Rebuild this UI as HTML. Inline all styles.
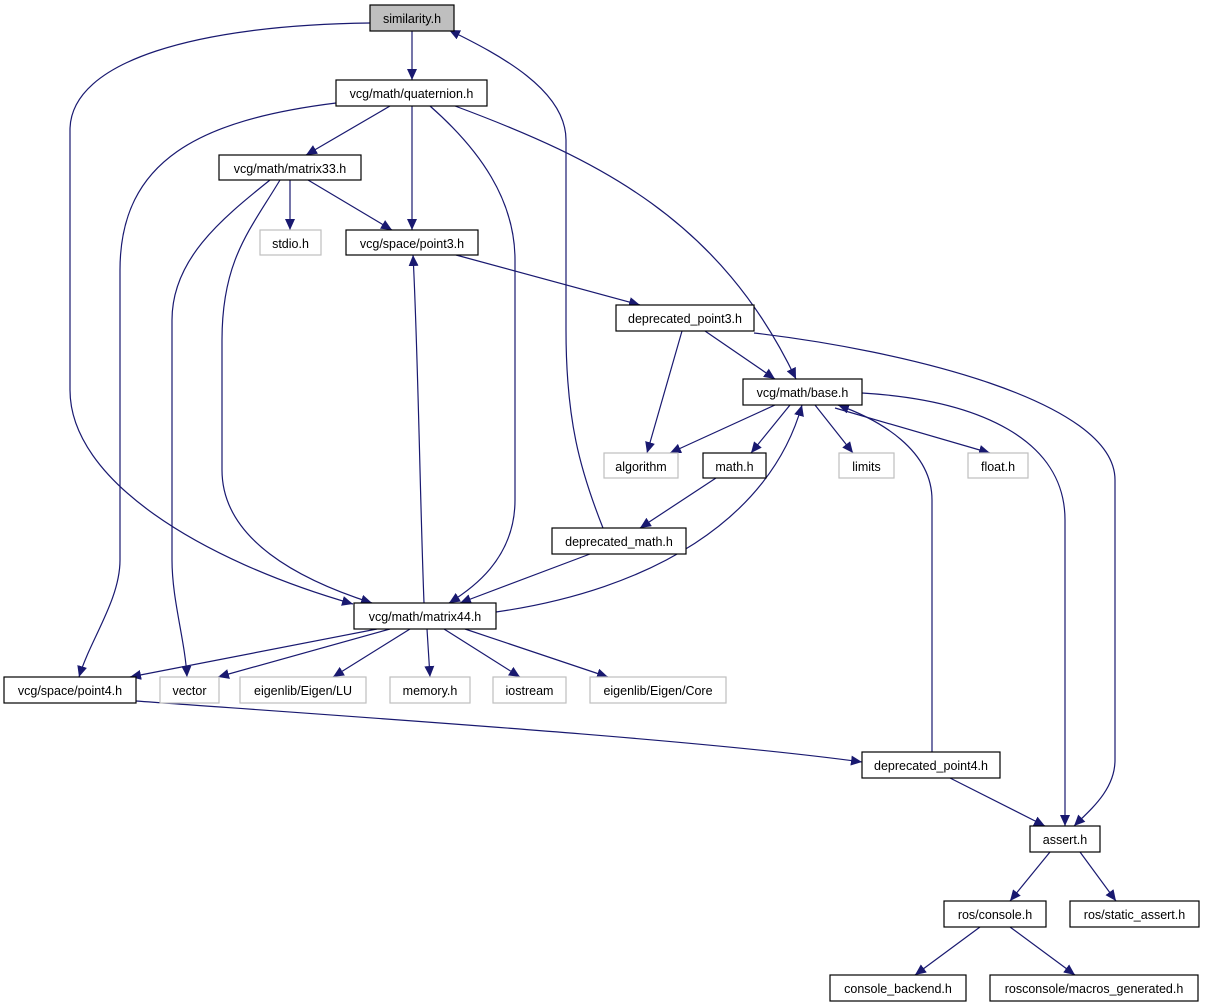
<!DOCTYPE html>
<html><head><meta charset="utf-8"><style>
html,body{margin:0;padding:0;background:#fff;}
svg{display:block;}
text{font-family:"Liberation Sans",sans-serif;font-size:12.5px;fill:#000;}
</style></head><body>
<svg width="1205" height="1008" viewBox="0 0 1205 1008" xmlns="http://www.w3.org/2000/svg">
<defs>
<marker id="a" markerUnits="userSpaceOnUse" markerWidth="12" markerHeight="10" refX="11" refY="5" orient="auto">
<path d="M0,0 L11,5 L0,10 z" fill="#191970"/>
</marker>
</defs>
<g fill="none" stroke="#191970" stroke-width="1.2" marker-end="url(#a)">
<path d="M412,31 L412,80"/>
<path d="M370,23 C200,25 70,60 70,130 L70,390 C70,480 200,560 353,604"/>
<path d="M603,528 C580,470 566,420 566,330 L566,140 C566,90 500,55 449,30"/>
<path d="M390,106 L306,155"/>
<path d="M412,106 L412,230"/>
<path d="M430,106 C480,150 515,200 515,260 L515,500 C515,560 470,590 449,603"/>
<path d="M455,106 C600,160 720,220 796,379"/>
<path d="M336,103 C200,120 120,160 120,270 L120,560 C120,600 90,640 79,677"/>
<path d="M290,180 L290,230"/>
<path d="M308,180 L392,230"/>
<path d="M270,180 C220,220 172,260 172,320 L172,560 C172,600 185,640 187,677"/>
<path d="M280,180 C250,230 222,260 222,340 L222,470 C222,540 300,580 372,603"/>
<path d="M456,255 L640,305"/>
<path d="M424,603 C420,500 418,350 413,255"/>
<path d="M705,331 L775,379"/>
<path d="M682,331 L647,453"/>
<path d="M754,333 C900,350 1115,400 1115,480 L1115,760 C1115,790 1090,810 1074,826"/>
<path d="M775,405 L670,453"/>
<path d="M790,405 L751,453"/>
<path d="M815,405 L853,453"/>
<path d="M835,408 L990,453"/>
<path d="M932,752 L932,500 C932,450 880,420 838,405"/>
<path d="M862,393 C980,400 1065,440 1065,520 L1065,826"/>
<path d="M716,478 L640,528"/>
<path d="M590,554 L460,603"/>
<path d="M496,612 C650,590 770,520 802,405"/>
<path d="M377,629 L130,677"/>
<path d="M390,629 L218,677"/>
<path d="M410,629 L333,677"/>
<path d="M427,629 L430,677"/>
<path d="M444,629 L520,677"/>
<path d="M465,629 L608,677"/>
<path d="M136,701 C400,720 700,740 862,762"/>
<path d="M950,778 L1045,826"/>
<path d="M1050,852 L1010,901"/>
<path d="M1080,852 L1116,901"/>
<path d="M980,927 L915,975"/>
<path d="M1010,927 L1075,975"/>
</g>
<g stroke-width="1.2" text-anchor="middle">
<rect x="370" y="5" width="84" height="26" fill="#bfbfbf" stroke="#000"/><text x="412" y="23">similarity.h</text>
<rect x="336" y="80" width="151" height="26" fill="#fff" stroke="#000"/><text x="411.5" y="98">vcg/math/quaternion.h</text>
<rect x="219" y="155" width="142" height="25" fill="#fff" stroke="#000"/><text x="290" y="173">vcg/math/matrix33.h</text>
<rect x="260" y="230" width="61" height="25" fill="#fff" stroke="#bfbfbf"/><text x="290.5" y="248">stdio.h</text>
<rect x="346" y="230" width="132" height="25" fill="#fff" stroke="#000"/><text x="412" y="248">vcg/space/point3.h</text>
<rect x="616" y="305" width="138" height="26" fill="#fff" stroke="#000"/><text x="685" y="323">deprecated_point3.h</text>
<rect x="743" y="379" width="119" height="26" fill="#fff" stroke="#000"/><text x="802.5" y="397">vcg/math/base.h</text>
<rect x="604" y="453" width="74" height="25" fill="#fff" stroke="#bfbfbf"/><text x="641" y="471">algorithm</text>
<rect x="703" y="453" width="63" height="25" fill="#fff" stroke="#000"/><text x="734.5" y="471">math.h</text>
<rect x="839" y="453" width="55" height="25" fill="#fff" stroke="#bfbfbf"/><text x="866.5" y="471">limits</text>
<rect x="968" y="453" width="60" height="25" fill="#fff" stroke="#bfbfbf"/><text x="998" y="471">float.h</text>
<rect x="552" y="528" width="134" height="26" fill="#fff" stroke="#000"/><text x="619" y="546">deprecated_math.h</text>
<rect x="354" y="603" width="142" height="26" fill="#fff" stroke="#000"/><text x="425" y="621">vcg/math/matrix44.h</text>
<rect x="4" y="677" width="132" height="26" fill="#fff" stroke="#000"/><text x="70" y="695">vcg/space/point4.h</text>
<rect x="160" y="677" width="59" height="26" fill="#fff" stroke="#bfbfbf"/><text x="189.5" y="695">vector</text>
<rect x="240" y="677" width="126" height="26" fill="#fff" stroke="#bfbfbf"/><text x="303" y="695">eigenlib/Eigen/LU</text>
<rect x="390" y="677" width="80" height="26" fill="#fff" stroke="#bfbfbf"/><text x="430" y="695">memory.h</text>
<rect x="493" y="677" width="73" height="26" fill="#fff" stroke="#bfbfbf"/><text x="529.5" y="695">iostream</text>
<rect x="590" y="677" width="136" height="26" fill="#fff" stroke="#bfbfbf"/><text x="658" y="695">eigenlib/Eigen/Core</text>
<rect x="862" y="752" width="138" height="26" fill="#fff" stroke="#000"/><text x="931" y="770">deprecated_point4.h</text>
<rect x="1030" y="826" width="70" height="26" fill="#fff" stroke="#000"/><text x="1065" y="844">assert.h</text>
<rect x="944" y="901" width="102" height="26" fill="#fff" stroke="#000"/><text x="995" y="919">ros/console.h</text>
<rect x="1070" y="901" width="129" height="26" fill="#fff" stroke="#000"/><text x="1134.5" y="919">ros/static_assert.h</text>
<rect x="830" y="975" width="136" height="26" fill="#fff" stroke="#000"/><text x="898" y="993">console_backend.h</text>
<rect x="990" y="975" width="208" height="26" fill="#fff" stroke="#000"/><text x="1094" y="993">rosconsole/macros_generated.h</text>
</g>
</svg>
</body></html>
